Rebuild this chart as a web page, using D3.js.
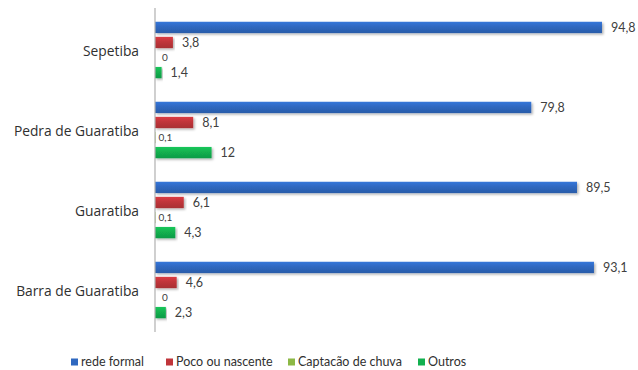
<!DOCTYPE html>
<html>
<head>
<meta charset="utf-8">
<script src="https://cdn.jsdelivr.net/npm/d3@7"></script>
<style>
  html, body { margin: 0; padding: 0; background: #fff; }
  svg { display: block; }
  text { font-family: Lato, "Open Sans", sans-serif; }
  .cat text { font-family: "Open Sans", Lato, sans-serif; }
</style>
</head>
<body>
<svg id="chart" width="638" height="370"></svg>
<script>
// Bairros (categorias do eixo vertical)
const categories = ["Sepetiba", "Pedra de Guaratiba", "Guaratiba", "Barra de Guaratiba"];
// Séries: forma de abastecimento de água (%)
const seriesNames = ["rede formal", "Poco ou nascente", "Captacao de chuva", "Outros"];
const redeFormal = [94.8, 79.8, 89.5, 93.1];
const pocoNascente = [3.8, 8.1, 6.1, 4.6];
const captacaoChuva = [0, 0.1, 0.1, 0];
const outros = [1.4, 12, 4.3, 2.3];
const legendLabels = ["rede formal", "Poco ou nascente", "Captacão de chuva", "Outros"];

const seriesValues = [redeFormal, pocoNascente, captacaoChuva, outros];
const colors = ["#2f68c0", "#c0353a", "#8cb845", "#12b04f"];

const svg = d3.select("#chart");

const x = d3.scaleLinear().domain([0, 100]).range([155, 626.5]);
const y0 = d3.scaleBand().domain(categories).range([10, 330]).paddingInner(0.2).paddingOuter(0.1);
const y1 = d3.scaleBand().domain(seriesNames).range([0, y0.bandwidth()]).padding(0.25);

const fmt = v => String(v).replace(".", ",");

// Gradientes e sombra das barras
const defs = svg.append("defs");
colors.forEach((c, i) => {
  const g = defs.append("linearGradient").attr("id", "grad" + i)
    .attr("x1", 0).attr("y1", 0).attr("x2", 0).attr("y2", 1);
  g.append("stop").attr("offset", "0%").attr("stop-color", d3.color(c).brighter(0.35));
  g.append("stop").attr("offset", "45%").attr("stop-color", c);
  g.append("stop").attr("offset", "100%").attr("stop-color", d3.color(c).darker(0.35));
});
const sh = defs.append("filter").attr("id", "shadow").attr("x", "-5%").attr("y", "-30%").attr("width", "115%").attr("height", "180%");
sh.append("feDropShadow").attr("dx", 1.5).attr("dy", 1.5).attr("stdDeviation", 1.2)
  .attr("flood-color", "#000").attr("flood-opacity", 0.3);

// Barras
const groups = svg.append("g").selectAll("g")
  .data(categories)
  .join("g")
  .attr("transform", d => `translate(0,${y0(d)})`);

groups.selectAll("rect")
  .data((d, ci) => seriesNames.map((s, si) => ({ s, si, v: seriesValues[si][ci] })))
  .join("rect")
  .attr("x", x(0))
  .attr("y", d => y1(d.s))
  .attr("width", d => x(d.v) - x(0))
  .attr("height", y1.bandwidth())
  .attr("fill", d => `url(#grad${d.si})`)
  .attr("filter", "url(#shadow)");

// Rótulos de valor
groups.selectAll("text.val")
  .data((d, ci) => seriesNames.map((s, si) => ({ s, si, v: seriesValues[si][ci] })))
  .join("text")
  .attr("class", "val")
  .attr("x", d => d.si === 2 ? x(d.v) + 10 : x(d.v) + 9)
  .attr("y", d => y1(d.s) + y1.bandwidth() / 2)
  .attr("dy", "0.35em")
  .attr("text-anchor", d => d.si === 2 ? "middle" : "start")
  .attr("font-size", d => d.si === 2 ? 10 : 12.5)
  .attr("fill", "#404040")
  .text(d => fmt(d.v));

// Eixo vertical com categorias
const yAxis = svg.append("g")
  .attr("class", "cat")
  .attr("transform", `translate(${x(0)},0)`)
  .call(d3.axisLeft(y0).tickSize(0).tickPadding(16));
yAxis.select(".domain").attr("stroke", "#b0b0b0").attr("stroke-width", 1.2)
  .attr("d", "M0,8V332");
yAxis.selectAll("text").attr("font-size", 13.8).attr("fill", "#303030").attr("dy", "0.4em");

// Legenda
const legendX = [71, 166, 288, 418];
const legend = svg.append("g").selectAll("g")
  .data(legendLabels)
  .join("g")
  .attr("transform", (d, i) => `translate(${legendX[i]},362)`);
legend.append("rect").attr("x", 0).attr("y", -3.5).attr("width", 7).attr("height", 7)
  .attr("fill", (d, i) => colors[i]);
legend.append("text").attr("x", 10).attr("dy", "0.35em")
  .attr("font-size", 12.5).attr("fill", "#303030").text(d => d);
</script>
</body>
</html>
